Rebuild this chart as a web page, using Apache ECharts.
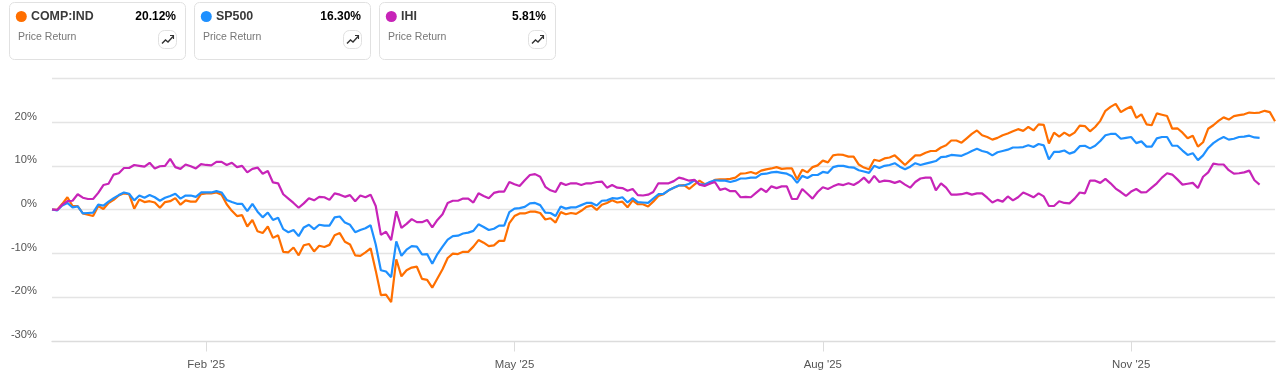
<!DOCTYPE html>
<html>
<head>
<meta charset="utf-8">
<style>
html,body{margin:0;padding:0;background:#fff}
#main{width:1280px;height:380px}
</style>
<script src="https://cdn.jsdelivr.net/npm/echarts@6/dist/echarts.min.js"></script>
</head>
<body>
<div id="main"></div>
<script>
var comp = [0,-0.1,1.3,2.8,0.8,0.8,-0.9,-1.2,-1.5,0.8,0.1,1.5,2.2,3.2,3.7,3.5,0.2,2.3,1.7,1.9,1.6,0.4,1.7,1.9,2.6,1.1,2.1,1.8,1.8,3.5,3.7,3.7,3.9,3.4,1.2,-0.3,-1.5,-1.3,-3.9,-2.4,-5.0,-5.4,-3.9,-6.5,-5.9,-9.7,-9.8,-8.7,-10.5,-8.2,-7.9,-9.6,-8.3,-8.6,-8.1,-5.9,-5.4,-7.4,-8.0,-10.5,-10.6,-9.8,-8.9,-14,-19.6,-19.5,-21.2,-11.4,-15.3,-13.9,-13.3,-13.1,-15.9,-16.1,
  -17.9,-15.8,-13.7,-11.1,-10.1,-10.2,-9.7,-9.7,-8.5,-7.0,-7.6,-8.4,-8.2,-7.2,-7.2,-3.1,-1.5,-0.9,-0.9,-0.5,-0.5,-0.8,-2.3,-2.0,-3.0,-0.6,-1.1,-0.8,-1.0,-0.3,0.6,0.9,-0.1,1.1,1.5,2.1,1.6,1.8,0.5,2.1,1.2,1.2,0.7,1.8,3.1,3.5,4.4,5.0,5.5,5.6,4.7,5.7,6.6,5.8,6.0,6.8,6.9,6.9,7.0,7.3,8.2,8.3,8.6,8.2,8.9,9.2,9.4,9.7,9.3,9.4,9.4,6.9,9.1,8.5,9.7,10.1,11.2,10.8,12.4,12.6,12.5,12.1,12.1,
  10.3,9.6,9.2,11.4,11.1,11.7,11.9,12.4,11.3,10.2,11.3,12.4,12.4,13.0,13.4,13.4,14.2,14.7,15.8,15.8,15.3,16.3,17.3,18.1,17.0,16.6,16.0,16.4,17.0,17.4,17.9,18.4,18.0,18.9,18.1,19.5,19.4,15.1,17.6,16.7,17.6,16.9,17.6,19.2,19.1,17.9,18.9,20.3,22.6,23.5,24.2,22.3,23.0,23.6,21.0,21.8,19.5,19.3,22.0,21.7,21.4,18.5,18.6,17.6,16.3,16.9,14.4,15.4,18.5,19.3,20.3,21.1,20.6,21.4,21.6,21.8,22.2,22.1,22.2,22.6,22.3,20.2];
var sp500 = [0,-0.2,0.9,1.5,0.5,0.7,-0.9,-0.8,-0.7,1.1,0.9,1.8,2.6,3.3,3.9,3.6,2.1,3.2,2.7,3.3,2.8,2.0,2.7,3.1,3.6,2.5,3.2,3.2,2.9,3.9,3.9,3.9,4.2,3.9,2.2,1.7,1.3,1.3,-0.4,1.3,-0.5,-1.8,-0.7,-2.4,-1.9,-4.5,-5.2,-4.7,-6.1,-4.1,-3.5,-4.5,-3.5,-3.7,-3.7,-1.8,-1.6,-3.0,-3.5,-5.2,-4.7,-4.3,-3.6,-8,-13.9,-14.2,-15.5,-7.3,-10.6,-9.2,-8.4,-8.5,-10.3,-10.2,
  -12.4,-10.2,-8.5,-6.9,-6.1,-6.0,-5.5,-5.3,-4.9,-3.4,-4.0,-4.7,-4.4,-3.7,-3.7,-0.6,0.2,0.3,0.6,1.4,1.5,1.0,-0.7,-0.8,-1.5,0.7,0.2,0.5,0.5,1.0,1.5,1.5,0.9,2.0,2.1,2.6,2.5,2.8,1.6,2.6,1.7,1.6,1.5,2.5,3.5,3.6,4.4,5.0,5.5,5.5,5.9,6.7,5.8,5.7,6.3,6.7,6.6,6.6,6.3,6.6,7.1,7.1,7.3,7.3,8.1,8.2,8.5,8.6,8.4,8.2,7.6,6.1,7.7,7.2,7.9,7.9,8.6,8.4,9.7,10.0,10.0,9.7,9.6,
  9.0,8.7,8.4,10.0,9.5,10.0,10.2,10.6,9.8,9.2,9.8,10.6,10.2,10.5,10.8,11.1,12.0,12.1,12.5,12.4,12.3,12.8,13.4,13.9,13.4,13.1,12.4,13.1,13.4,13.7,14.2,14.2,14.3,14.7,14.3,15.0,14.7,11.5,13.2,13.2,13.5,12.8,13.2,14.5,14.6,14.0,14.6,15.7,17.0,17.3,17.3,16.2,16.4,16.6,15.2,15.6,14.4,14.4,16.3,16.6,16.6,14.6,14.6,13.5,12.5,12.9,11.3,12.4,14.1,15.2,16.0,16.6,16.0,16.2,16.6,16.7,16.9,16.5,16.4];
var ihi = [0,-0.1,1.1,1.9,2.0,3.5,2.7,2.4,2.4,3.8,5.6,5.9,8.0,8.3,9.5,9.5,10.2,10.0,9.8,10.7,9.4,9.9,10.0,11.6,9.7,9.3,10.3,9.9,9.4,10.4,10.2,10.1,10.9,10.9,10.2,10.7,9.7,10.0,8.5,9.3,9.6,8.2,8.8,6.2,6.0,3.5,2.5,1.5,0.4,1.4,2.6,2.1,2.9,2.8,2.2,3.7,3.4,2.9,3.3,1.9,3.2,2.8,3.4,0.8,-5.8,-5.1,-7.0,-0.4,-4.2,-3.3,-2.2,-2.9,-2.9,-2.4,
  -4.1,-2.4,-1.1,1.5,2.0,2.0,2.5,2.5,1.6,3.7,3.1,2.6,3.8,4.1,4.1,6.3,5.8,5.4,6.7,7.9,8.1,7.5,5.2,4.4,4.0,6.1,5.6,6.0,6.0,5.6,6.0,6.0,6.3,6.4,5.0,5.6,5.0,4.9,4.3,4.7,3.3,3.2,3.4,4.0,6.0,6.0,6.0,6.5,7.3,7.0,6.6,6.8,5.7,5.4,5.9,6.3,4.5,4.8,4.2,4.2,2.8,2.9,2.8,3.8,4.8,4.0,5.3,4.9,5.3,5.3,2.4,2.4,4.7,3.6,2.5,4.0,5.1,4.7,5.3,5.8,5.6,6.0,5.6,
  6.3,7.3,6.1,7.7,6.3,6.6,6.5,6.1,6.5,5.7,5.0,6.3,7.1,7.3,7.3,4.4,6.0,5.0,3.4,3.4,3.5,3.8,3.4,3.7,3.7,2.7,1.6,2.2,1.8,3.0,2.1,2.8,3.9,3.4,2.8,3.7,3.0,0.8,0.8,1.9,1.5,1.4,2.5,3.9,3.7,6.6,6.6,6.1,7.0,6.0,4.8,4.0,3.1,4.1,4.7,3.9,4.0,5.0,6.0,7.3,8.3,8.0,6.9,5.7,5.9,6.1,4.9,7.5,8.5,10.5,10.3,10.3,9.0,8.2,8.3,8.5,8.9,6.7,5.7];
var names = ['COMP:IND', 'SP500', 'IHI'];
var returns = ['20.12%', '16.30%', '5.81%'];
var colors = ['#ff6f00', '#1e90ff', '#c724b8'];
var tickIndex = [30, 90, 150, 210];
var tickLabels = ["Feb '25", "May '25", "Aug '25", "Nov '25"];

var chartDom = document.getElementById('main');
var myChart = echarts.init(chartDom);

var categories = [];
for (var i = 0; i < comp.length; i++) {
  var k = tickIndex.indexOf(i);
  categories.push(k >= 0 ? tickLabels[k] : String(i));
}
function isTick(i) { return tickIndex.indexOf(i) >= 0; }

var font = 'Liberation Sans, Arial, sans-serif';
var cards = [];
var cardX = [9, 194, 379];
names.forEach(function (name, n) {
  var x = cardX[n];
  cards.push(
    { type: 'rect', shape: { x: x + 0.5, y: 2.5, width: 176, height: 57, r: 5 }, style: { fill: '#fff', stroke: '#e1e1e1', lineWidth: 1 } },
    { type: 'circle', shape: { cx: x + 12.3, cy: 16.5, r: 5.5 }, style: { fill: colors[n] } },
    { type: 'text', style: { x: x + 22, y: 17, text: name, font: 'bold 12.4px ' + font, fill: '#3a3a3a', textVerticalAlign: 'middle' } },
    { type: 'text', style: { x: x + 167, y: 17, text: returns[n], font: 'bold 12px ' + font, fill: '#000', textAlign: 'right', textVerticalAlign: 'middle' } },
    { type: 'text', style: { x: x + 9, y: 37.5, text: 'Price Return', font: '10.5px ' + font, fill: '#777', textVerticalAlign: 'middle' } },
    { type: 'rect', shape: { x: x + 149.5, y: 30.5, width: 18, height: 18, r: 6 }, style: { fill: '#fff', stroke: '#e1e1e1', lineWidth: 1 } },
    { type: 'polyline', shape: { points: [[x + 153, 43.5], [x + 156.5, 40], [x + 159, 42], [x + 164, 36.5]] }, style: { fill: 'none', stroke: '#333', lineWidth: 1.4 } },
    { type: 'polyline', shape: { points: [[x + 161, 35.5], [x + 164.5, 35.5], [x + 164.5, 39]] }, style: { fill: 'none', stroke: '#333', lineWidth: 1.1 } }
  );
});

var option = {
  animation: false,
  grid: { left: 52, right: 5, top: 78.5, height: 262 },
  graphic: cards,
  xAxis: {
    type: 'category',
    data: categories,
    boundaryGap: false,
    offset: 1,
    axisLine: { onZero: false, lineStyle: { color: '#dcdcdc', width: 1.3 } },
    axisTick: { interval: function (i) { return isTick(i); }, length: 10, lineStyle: { color: '#dcdcdc' } },
    axisLabel: { interval: function (i) { return isTick(i); }, color: '#555', fontFamily: font, fontSize: 11.4, margin: 18 }
  },
  yAxis: {
    type: 'value',
    min: -30,
    max: 30,
    interval: 10,
    axisLine: { show: false },
    axisTick: { show: false },
    axisLabel: {
      color: '#555',
      fontFamily: font,
      fontSize: 11.2,
      margin: 15,
      verticalAlign: 'bottom',
      formatter: function (v) { return v === 30 ? '' : v + '%'; }
    },
    splitLine: { showMinLine: false, lineStyle: { color: '#e4e4e4', width: 1.3 } }
  },
  series: [
    { name: names[0], type: 'line', data: comp, showSymbol: false, lineStyle: { color: colors[0], width: 2.2 } },
    { name: names[1], type: 'line', data: sp500, showSymbol: false, lineStyle: { color: colors[1], width: 2.2 } },
    { name: names[2], type: 'line', data: ihi, showSymbol: false, lineStyle: { color: colors[2], width: 2.2 } }
  ]
};

option && myChart.setOption(option);
</script>
</body>
</html>
